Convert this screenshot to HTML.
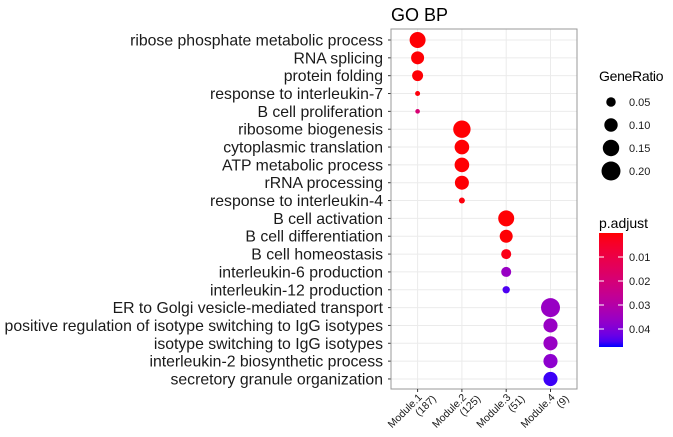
<!DOCTYPE html>
<html><head><meta charset="utf-8"><style>
body{margin:0;background:#fff;}
svg{display:block;font-family:"Liberation Sans",sans-serif;}
</style></head><body>
<svg id="chart" width="673" height="437">
<text x="391" y="21" font-size="18" fill="#000">GO BP</text>
<g id="plot"></g>
<g id="legend"></g>
</svg>
<script>
const terms = ["ribose phosphate metabolic process","RNA splicing","protein folding","response to interleukin-7","B cell proliferation","ribosome biogenesis","cytoplasmic translation","ATP metabolic process","rRNA processing","response to interleukin-4","B cell activation","B cell differentiation","B cell homeostasis","interleukin-6 production","interleukin-12 production","ER to Golgi vesicle-mediated transport","positive regulation of isotype switching to IgG isotypes","isotype switching to IgG isotypes","interleukin-2 biosynthetic process","secretory granule organization"];
const modules = ["Module.1","Module.2","Module.3","Module.4"];
const moduleCounts = ["(187)","(125)","(51)","(9)"];
const termModule = [0,0,0,0,0,1,1,1,1,1,2,2,2,2,2,3,3,3,3,3];
const geneRatio = [0.142,0.094,0.067,0.014,0.012,0.168,0.119,0.119,0.109,0.02,0.142,0.094,0.056,0.056,0.03,0.2,0.111,0.111,0.111,0.111];
const pAdjust = [0.0003,0.0003,0.0004,0.0008,0.019,0.0002,0.0002,0.0002,0.0003,0.001,0.0002,0.0003,0.002,0.036,0.045,0.036,0.036,0.036,0.038,0.046];
const sizeTicks = [0.05,0.10,0.15,0.20];
const sizeTickLabels = ["0.05","0.10","0.15","0.20"];
const colorTicks = [0.01,0.02,0.03,0.04];
const colorTickLabels = ["0.01","0.02","0.03","0.04"];

const NS="http://www.w3.org/2000/svg";
function mk(tag,attrs,parent){const e=document.createElementNS(NS,tag);for(const k in attrs)e.setAttribute(k,attrs[k]);parent.appendChild(e);return e;}
const P={l:391,r:577,t:29,b:389};
const xs=i=>P.l+26.6+i*44.3;
const ys=i=>40+i*17.84;
const rs=v=>21.2*Math.sqrt(v);
const pMin=0,pMax=0.0475;
function lab2rgb(L,a,b){let y=(L+16)/116,x=a/500+y,z=y-b/200;
const f=t=>t**3>0.008856?t**3:(t-16/116)/7.787;
x=0.95047*f(x);y=f(y);z=1.08883*f(z);
let r=x*3.2406+y*-1.5372+z*-0.4986,g=x*-0.9689+y*1.8758+z*0.0415,bl=x*0.0557+y*-0.2040+z*1.0570;
const c=v=>{v=v>0.0031308?1.055*Math.pow(v,1/2.4)-0.055:12.92*v;return Math.round(255*Math.max(0,Math.min(1,v)));};
return `rgb(${c(r)},${c(g)},${c(bl)})`;}
const LR=[53.24,80.09,67.20],LB=[32.30,79.19,-107.86];
function col(p){let t=(p-pMin)/(pMax-pMin);t=Math.max(0,Math.min(1,t));
return lab2rgb(LR[0]+(LB[0]-LR[0])*t,LR[1]+(LB[1]-LR[1])*t,LR[2]+(LB[2]-LR[2])*t);}
const g=document.getElementById('plot');
mk('rect',{x:P.l,y:P.t,width:P.r-P.l,height:P.b-P.t,fill:'#fff'},g);
for(let i=0;i<modules.length;i++){const l=mk('line',{x1:xs(i),x2:xs(i),y1:P.t,y2:P.b,stroke:'#ebebeb','stroke-width':1},g);

}
terms.forEach((t,i)=>{const l=mk('line',{x1:P.l,x2:P.r,y1:ys(i),y2:ys(i),stroke:'#ebebeb','stroke-width':1},g);


mk('line',{x1:P.l-3,x2:P.l,y1:ys(i),y2:ys(i),stroke:'#333'},g);
const tx=mk('text',{x:P.l-8,y:ys(i)+5.5,'text-anchor':'end','font-size':'15.8',fill:'#1a1a1a'},g);tx.textContent=t;

});
terms.forEach((t,i)=>{const c=mk('circle',{cx:xs(termModule[i]),cy:ys(i),r:rs(geneRatio[i]),fill:col(pAdjust[i])},g);

});
mk('rect',{x:P.l,y:P.t,width:P.r-P.l,height:P.b-P.t,fill:'none',stroke:'#999','stroke-width':1},g);
modules.forEach((m,i)=>{mk('line',{x1:xs(i),x2:xs(i),y1:P.b,y2:P.b+3,stroke:'#333'},g);
const tx=mk('text',{transform:`translate(${xs(i)+5},${P.b+9}) rotate(-45)`,'text-anchor':'end','font-size':'10.5',fill:'#1a1a1a'},g);
const a=mk('tspan',{x:0,dy:0},tx);a.textContent=m;
const b=mk('tspan',{x:9,dy:11},tx);b.textContent=moduleCounts[i];

});
const L=document.getElementById('legend');
const st=mk('text',{x:599,y:81,'font-size':'14','letter-spacing':'-0.3',fill:'#000'},L);st.textContent='GeneRatio';


sizeTicks.forEach((v,i)=>{const y=102+i*23;
const c=mk('circle',{cx:611,cy:y,r:rs(v),fill:'#000'},L);


const tx=mk('text',{x:629,y:y+4,'font-size':'11',fill:'#1a1a1a'},L);tx.textContent=sizeTickLabels[i];

});
const ct=mk('text',{x:599,y:228,'font-size':'14',fill:'#000'},L);ct.textContent='p.adjust';


const defs=mk('defs',{},L);const gr=mk('linearGradient',{id:'cg',x1:0,y1:0,x2:0,y2:1},defs);
for(let k=0;k<=20;k++){mk('stop',{offset:k/20,'stop-color':col(pMin+(pMax-pMin)*k/20)},gr);}
const cb=mk('rect',{x:599,y:233,width:24,height:114,fill:'url(#cg)'},L);


const cy=p=>233+(p-pMin)/(pMax-pMin)*114;
colorTicks.forEach((v,i)=>{const y=cy(v);
mk('line',{x1:599,x2:604,y1:y,y2:y,stroke:'#fff'},L);mk('line',{x1:618,x2:623,y1:y,y2:y,stroke:'#fff'},L);
const tx=mk('text',{x:629,y:y+4,'font-size':'11',fill:'#1a1a1a'},L);tx.textContent=colorTickLabels[i];

});
</script>
</body></html>
